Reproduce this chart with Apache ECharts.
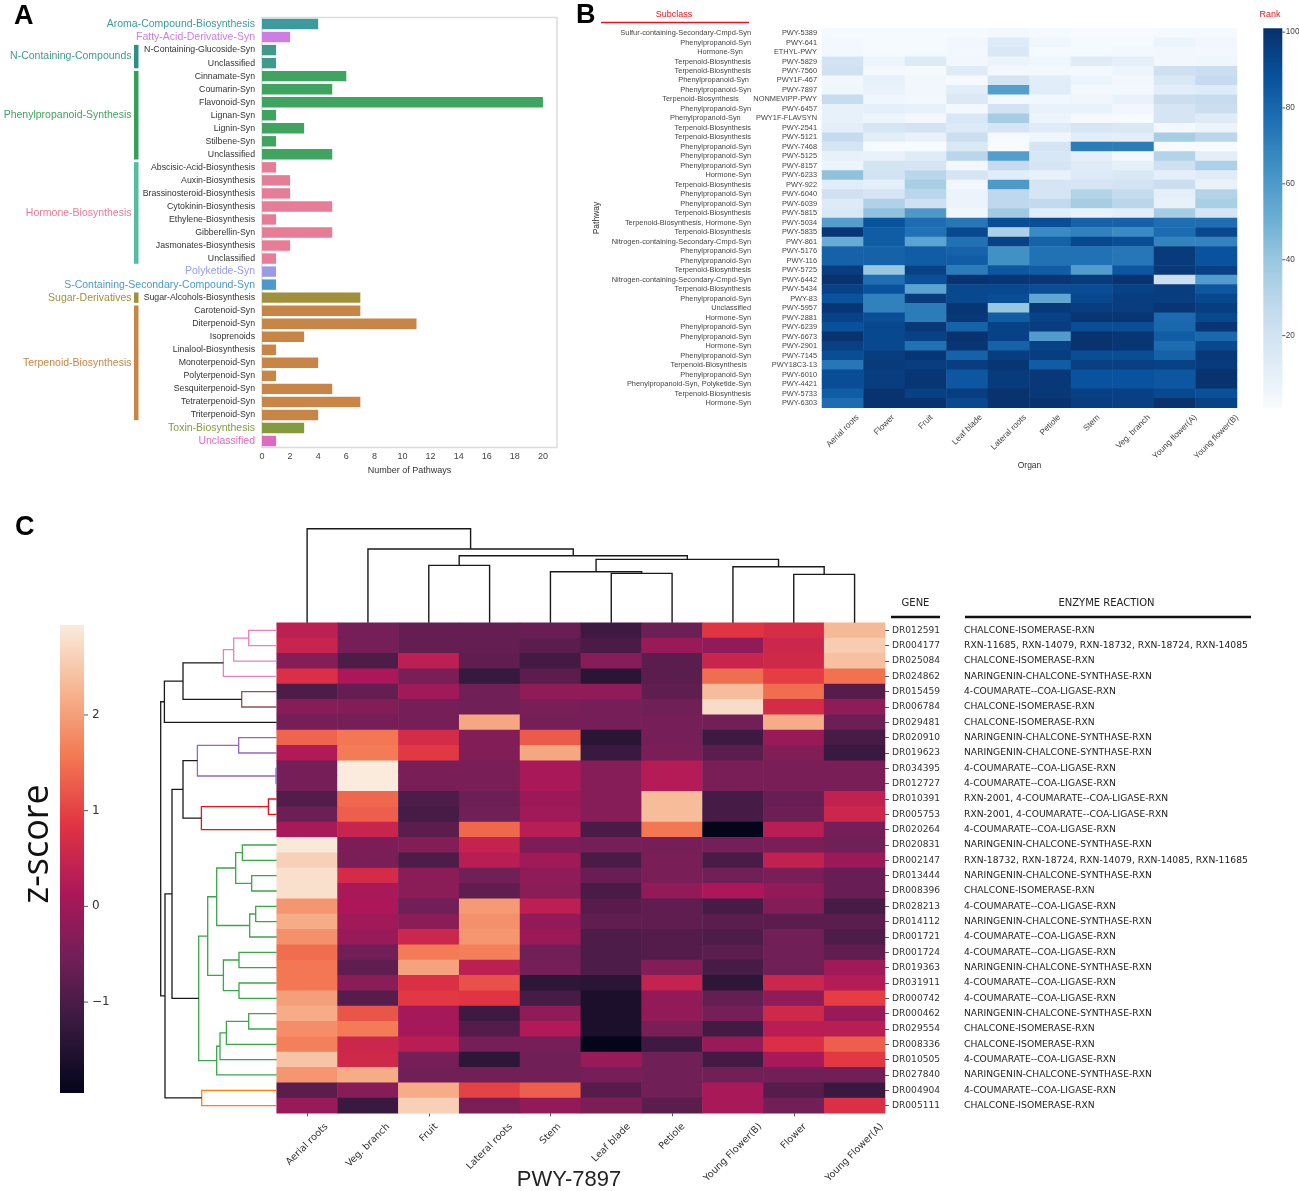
<!DOCTYPE html>
<html><head><meta charset="utf-8">
<style>html,body{margin:0;padding:0;background:#fff}#c{width:1299px;height:1191px}</style>
<script src="https://cdn.jsdelivr.net/npm/echarts@6/dist/echarts.min.js"></script>
</head><body><div id="c"></div>
<script>
// ---------- Panel A data ----------
const pathwayCategories = ['Aroma-Compound-Biosynthesis','Fatty-Acid-Derivative-Syn','N-Containing-Glucoside-Syn','Unclassified','Cinnamate-Syn','Coumarin-Syn','Flavonoid-Syn','Lignan-Syn','Lignin-Syn','Stilbene-Syn','Unclassified','Abscisic-Acid-Biosynthesis','Auxin-Biosynthesis','Brassinosteroid-Biosynthesis','Cytokinin-Biosynthesis','Ethylene-Biosynthesis','Gibberellin-Syn','Jasmonates-Biosynthesis','Unclassified','Polyketide-Syn','S-Containing-Secondary-Compound-Syn','Sugar-Alcohols-Biosynthesis','Carotenoid-Syn','Diterpenoid-Syn','Isoprenoids','Linalool-Biosynthesis','Monoterpenoid-Syn','Polyterpenoid-Syn','Sesquiterpenoid-Syn','Tetraterpenoid-Syn','Triterpenoid-Syn','Toxin-Biosynthesis','Unclassified'];
const pathwayCounts = [4,2,1,1,6,5,20,1,3,1,5,1,2,2,5,1,5,2,1,1,1,7,7,11,3,1,4,1,5,7,4,3,1];
const pathwayClass = ['aroma','fatty','ncont','ncont','phen','phen','phen','phen','phen','phen','phen','horm','horm','horm','horm','horm','horm','horm','horm','poly','scont','sugar','terp','terp','terp','terp','terp','terp','terp','terp','terp','toxin','uncl'];
const soloClassRows = [0,1,19,20,31,32];
const groupNames = ['N-Containing-Compounds','Phenylpropanoid-Synthesis','Hormone-Biosynthesis','Sugar-Derivatives','Terpenoid-Biosynthesis'];
const groupFirstRow = [2,4,11,21,22];
const groupLastRow = [3,10,18,21,30];
const groupClass = ['ncont','phen','horm','sugar','terp'];
const groupBracketColor = ['#2f8f86','#35a05a','#52bda0','#a0903c','#c98545'];
const classColor = {aroma:'#3c9a9e',fatty:'#cf7de3',ncont:'#3f9a8c',phen:'#3fa45f',horm:'#e67c95',poly:'#9a9ae5',scont:'#4b9ac9',sugar:'#a0903c',terp:'#c98545',toxin:'#839a3f',uncl:'#e06ac0'};

// ---------- Panel B data ----------
const organsB = ['Aerial roots','Flower','Fruit','Leaf blade','Lateral roots','Petiole','Stem','Veg. branch','Young flower(A)','Young flower(B)'];
const pathwaysB = ['PWY-5389','PWY-641','ETHYL-PWY','PWY-5829','PWY-7560','PWY1F-467','PWY-7897','NONMEVIPP-PWY','PWY-6457','PWY1F-FLAVSYN','PWY-2541','PWY-5121','PWY-7468','PWY-5125','PWY-8157','PWY-6233','PWY-922','PWY-6040','PWY-6039','PWY-5815','PWY-5034','PWY-5835','PWY-861','PWY-5176','PWY-116','PWY-5725','PWY-6442','PWY-5434','PWY-83','PWY-5957','PWY-2881','PWY-6239','PWY-6673','PWY-2901','PWY-7145','PWY18C3-13','PWY-6010','PWY-4421','PWY-5733','PWY-6303'];
const subclassB = ['Sulfur-containing-Secondary-Cmpd-Syn','Phenylpropanoid-Syn','Hormone-Syn    ','Terpenoid-Biosynthesis','Terpenoid-Biosynthesis','Phenylpropanoid-Syn ','Phenylpropanoid-Syn','Terpenoid-Biosynthesis      ','Phenylpropanoid-Syn','Phenylpropanoid-Syn     ','Terpenoid-Biosynthesis','Terpenoid-Biosynthesis','Phenylpropanoid-Syn','Phenylpropanoid-Syn','Phenylpropanoid-Syn','Hormone-Syn','Terpenoid-Biosynthesis','Phenylpropanoid-Syn','Phenylpropanoid-Syn','Terpenoid-Biosynthesis','Terpenoid-Biosynthesis, Hormone-Syn','Terpenoid-Biosynthesis','Nitrogen-containing-Secondary-Cmpd-Syn','Phenylpropanoid-Syn','Phenylpropanoid-Syn','Terpenoid-Biosynthesis','Nitrogen-containing-Secondary-Cmpd-Syn','Terpenoid-Biosynthesis','Phenylpropanoid-Syn','Unclassified','Hormone-Syn','Phenylpropanoid-Syn','Phenylpropanoid-Syn','Hormone-Syn','Phenylpropanoid-Syn','Terpenoid-Biosynthesis  ','Phenylpropanoid-Syn','Phenylpropanoid-Syn, Polyketide-Syn','Terpenoid-Biosynthesis','Hormone-Syn'];
const rankB = [
[2,2,2,2,3,2,1,1,2,2],[3,2,2,4,14,5,2,2,7,4],[3,2,2,3,16,2,2,3,4,3],[20,6,14,4,7,5,13,10,4,5],[21,3,2,13,3,3,3,6,22,24],
[4,9,4,2,19,12,6,4,16,26],[5,8,4,12,58,12,3,3,12,13],[25,5,3,15,3,4,5,8,24,25],[9,10,9,3,20,8,8,4,18,24],[9,6,3,17,36,6,2,2,18,13],
[11,18,20,14,18,13,18,16,3,7],[26,12,8,23,2,5,12,11,36,30],[18,1,1,16,1,18,72,72,1,1],[9,8,13,30,58,17,10,3,32,11],[6,19,18,3,26,18,13,10,22,34],
[42,20,30,18,12,9,14,16,10,13],[12,10,35,4,60,18,18,20,24,8],[22,18,30,7,28,18,32,26,10,32],[14,33,22,7,28,27,36,30,9,35],[16,42,60,5,38,12,8,11,36,18],
[58,88,78,74,90,90,82,82,77,77],[99,84,76,92,34,66,70,66,78,92],[52,84,56,76,94,82,92,90,69,69],[82,82,84,82,64,76,76,74,97,88],[82,82,84,84,64,76,76,74,97,88],
[96,40,94,72,86,84,59,86,98,95],[100,77,89,100,99,99,97,100,23,59],[94,88,56,92,92,90,90,94,96,86],[88,70,97,92,90,54,92,96,96,92],[99,70,72,99,40,98,96,96,99,96],
[94,90,72,98,84,94,99,99,79,92],[89,92,98,82,94,96,90,90,80,99],[100,92,94,100,94,59,100,99,84,80],[95,92,76,99,82,94,100,99,78,92],[90,96,99,82,96,96,90,90,82,98],
[74,97,96,96,99,84,95,95,94,97],[90,96,99,86,97,98,88,88,86,100],[90,96,99,86,97,98,88,88,86,100],[84,100,94,96,100,98,95,95,92,89],[78,100,100,92,100,100,96,95,100,94]];
const rankTicks = [20,40,60,80,100];

// ---------- Panel C data ----------
const organsC = ['Aerial roots','Veg. branch','Fruit','Lateral roots','Stem','Leaf blade','Petiole','Young Flower(B)','Flower','Young Flower(A)'];
const genesC = ['DR012591','DR004177','DR025084','DR024862','DR015459','DR006784','DR029481','DR020910','DR019623','DR034395','DR012727','DR010391','DR005753','DR020264','DR020831','DR002147','DR013444','DR008396','DR028213','DR014112','DR001721','DR001724','DR019363','DR031911','DR000742','DR000462','DR029554','DR008336','DR010505','DR027840','DR004904','DR005111'];
const CI='CHALCONE-ISOMERASE-RXN', NC='NARINGENIN-CHALCONE-SYNTHASE-RXN', CL='4-COUMARATE--COA-LIGASE-RXN', R2='RXN-2001, 4-COUMARATE--COA-LIGASE-RXN';
const reactionsC = [CI,'RXN-11685, RXN-14079, RXN-18732, RXN-18724, RXN-14085',CI,NC,CL,CI,CI,NC,NC,CL,CL,R2,R2,CL,NC,'RXN-18732, RXN-18724, RXN-14079, RXN-14085, RXN-11685',NC,CI,CL,NC,CL,CL,NC,CL,CL,NC,CI,CI,CL,NC,CL,CI];
const zscoreC = [
[0.35,-0.5,-0.7,-0.7,-0.65,-1.15,-0.6,0.85,0.7,2.3],[0.5,-0.5,-0.7,-0.7,-0.8,-1.0,-0.1,-0.2,0.55,2.55],[-0.3,-0.95,0.35,-0.75,-1.1,-0.3,-0.8,0.5,0.6,2.4],[0.75,0.15,-0.45,-1.25,-0.8,-1.4,-0.8,1.45,0.95,1.5],
[-0.95,-0.7,0.0,-0.55,-0.2,-0.2,-0.75,2.35,1.45,-0.85],[-0.3,-0.35,-0.5,-0.55,-0.45,-0.5,-0.55,2.75,0.65,-0.2],[-0.5,-0.5,-0.5,2.1,-0.5,-0.5,-0.5,-0.55,2.15,-0.6],[1.35,1.55,0.65,-0.35,1.25,-1.4,-0.5,-1.15,-0.1,-1.05],
[0.2,1.6,0.9,-0.35,2.1,-1.2,-0.45,-0.8,-0.35,-1.2],[-0.5,2.94,-0.45,-0.45,0.1,-0.3,0.25,-0.45,-0.45,-0.45],[-0.5,2.94,-0.45,-0.45,0.1,-0.3,0.25,-0.45,-0.45,-0.45],[-0.9,1.4,-0.95,-0.6,-0.05,-0.3,2.35,-1.05,-0.65,0.4],
[-0.6,1.3,-1.05,-0.55,0.0,-0.3,2.35,-1.05,-0.6,0.55],[0.1,0.5,-0.8,1.4,0.3,-1.0,1.55,-1.95,0.3,-0.5],[2.9,-0.4,-0.35,0.45,-0.4,-0.5,-0.5,-0.5,-0.45,-0.55],[2.6,-0.45,-0.95,0.3,0.0,-1.0,-0.45,-1.0,0.4,-0.05],
[2.8,0.65,-0.25,-0.55,-0.2,-0.65,-0.45,-0.55,-0.45,-0.65],[2.8,0.1,-0.25,-0.75,-0.25,-1.0,-0.15,0.15,-0.15,-0.65],[1.9,0.15,-0.55,1.95,0.35,-0.85,-0.75,-1.05,-0.35,-1.05],[2.15,0.0,-0.25,1.85,-0.15,-0.75,-0.75,-0.8,-0.8,-0.8],
[1.85,-0.1,0.55,1.9,-0.05,-0.95,-0.9,-0.95,-0.55,-0.95],[1.45,-0.55,1.6,1.65,-0.55,-0.95,-0.9,-0.8,-0.55,-0.75],[1.55,-0.75,2.05,0.35,-0.5,-0.95,-0.35,-1.05,-0.55,0.0],[1.55,-0.25,0.75,1.15,-1.35,-1.4,0.45,-1.35,0.55,0.25],
[2.0,-0.85,0.9,0.85,-1.05,-1.6,-0.15,-0.7,-0.2,0.95],[2.15,1.2,0.05,-1.15,-0.2,-1.6,-0.15,-0.5,0.6,-0.1],[1.8,1.6,0.05,-0.9,0.2,-1.6,-0.45,-1.1,0.3,0.3],[1.65,0.55,0.3,-0.5,-0.5,-1.95,-1.15,-0.1,0.75,1.3],
[2.45,0.6,-0.5,-1.35,-0.55,-0.1,-0.55,-1.1,0.1,0.9],[1.9,2.15,-0.55,-0.55,-0.55,-0.5,-0.55,-0.55,-0.55,-0.55],[-0.8,-0.3,2.15,1.0,1.3,-0.85,-0.55,0.1,-0.85,-1.2],[-0.1,-1.2,2.6,-0.45,-0.15,-0.4,-0.8,0.1,-0.55,0.75]];
const zTicks = [-1,0,1,2];
// Dendrogram merges: [child, child, linkage height]. child >= 0 is a leaf, 'mN' is the N-th merge.
const rowMerges = [[0,1,28],['m0',2,43],['m1',3,53.3],[4,5,35],['m2','m3',93.7],['m4',6,112.3],
[7,8,38],[9,10,0.7],['m6','m7',79.3],[11,12,8.3],['m9',13,75.3],['m8','m10',93.7],
[14,15,34.3],[16,17,25],['m12','m13',41],[18,19,21],['m15',20,27],['m14','m16',60],[21,22,37.7],[23,24,37.7],['m18','m19',53.3],['m17','m20',69],
[25,26,28],['m22',27,50.3],['m23',28,56.7],['m24',29,60],['m21','m25',78],['m11','m26',104.7],[30,31,75],['m27','m28',111.7],['m5','m29',116]];
const rowMergeColorKey = ['p','p','p','b','k','k','u','u','u','r','r','k','g','g','g','g','g','g','g','g','g','g','g','g','g','g','g','k','o','k','k'];
const dendroColor = {p:'#e87fc9',b:'#8c564b',k:'#1a1a1a',u:'#9467bd',r:'#e8131c',g:'#3aa648',o:'#ff7f0e'};
const colMerges = [[8,9,48.3],[7,'m0',56],[5,6,49.3],[4,'m2',51],['m3','m1',63.3],[2,3,57.3],['m5','m4',67],[1,'m6',73.7],[0,'m7',94]];

const blues = ['#f7fbff','#deebf7','#c6dbef','#9ecae1','#6baed6','#4292c6','#2171b5','#08519c','#08306b'];
const rocket = ['#03051a','#35193e','#701f57','#ad1759','#e13342','#f37651','#f6b48f','#faebdd'];

// ---------- layout ----------
const gA = {l:262,t:17.5,w:295,h:430};
const gB = {l:822,t:28.3,w:415,h:379.4};
const gBc = {l:1263.3,t:28.3,w:19,h:379.4};
const gC = {l:276.7,t:622.7,w:608.3,h:490.6};
const gCc = {l:60,t:625,w:24,h:468};
const dendroLeftW = 120, dendroTopH = 100;
const ARIAL = '"Liberation Sans",Arial,sans-serif', DEJAVU = '"DejaVu Sans",sans-serif';

function mergeLinks(merges, colorKeys){
  const pos=[],links=[];
  merges.forEach((m,i)=>{
    const get=c=>typeof c==='string'?pos[+c.slice(1)]:{p:c,h:0};
    const a=get(m[0]),b=get(m[1]);
    pos[i]={p:(a.p+b.p)/2,h:m[2]};
    links.push({a,b,h:m[2],color:colorKeys?dendroColor[colorKeys[i]]:'#1a1a1a'});
  });
  return links;
}
const rowLinks = mergeLinks(rowMerges,rowMergeColorKey);
const colLinks = mergeLinks(colMerges,null);

const measure = document.createElement('canvas').getContext('2d');
function rotatedLabelSeries(xi,yi,labels,row,font,top,fill){
  return {type:'custom',xAxisIndex:xi,yAxisIndex:yi,silent:true,clip:false,z:5,
    data:labels.map((_,i)=>[i,row]),encode:{x:0,y:1},
    renderItem(p,api){
      const i=api.value(0),cx=api.coord([i,row])[0];
      measure.font=font;
      const w=measure.measureText(labels[i]).width, fs=parseFloat(font);
      const box=(w+fs)*Math.SQRT1_2;
      return {type:'text',x:cx,y:top+box/2,rotation:Math.PI/4,
        style:{text:labels[i],font,fill,align:'center',verticalAlign:'middle'}};
    }};
}
function colorbarTicks(xi,yi,ticks,len){
  return {type:'custom',xAxisIndex:xi,yAxisIndex:yi,silent:true,clip:false,z:10,
    data:ticks.map(t=>[1,t]),encode:{x:0,y:1},
    renderItem(p,api){
      const c=api.coord([1,api.value(1)]);
      return {type:'line',shape:{x1:c[0],y1:c[1],x2:c[0]+len,y2:c[1]},style:{stroke:'#555',lineWidth:1}};
    }};
}
function cells(m){const o=[];m.forEach((r,y)=>r.forEach((v,x)=>o.push([x,y,v])));return o;}
const hiddenCat=(g)=>({gridIndex:g,type:'value',show:false,min:0,max:1});
function barGradient(colors){
  return new echarts.graphic.LinearGradient(0,1,0,0,colors.map((c,i)=>({offset:i/(colors.length-1),color:c})));
}
const noBounds={outerBoundsMode:'none',containLabel:false};

const option = {
  animation:false,backgroundColor:'#fff',
  textStyle:{fontFamily:ARIAL},
  grid:[
    {left:gA.l,top:gA.t,width:gA.w,height:gA.h,show:true,borderColor:'#dcdcdc',borderWidth:1.5,backgroundColor:'#fff',...noBounds},
    {left:gB.l,top:gB.t,width:gB.w,height:gB.h,...noBounds},
    {left:gBc.l,top:gBc.t,width:gBc.w,height:gBc.h,...noBounds},
    {left:gC.l,top:gC.t,width:gC.w,height:gC.h,...noBounds},
    {left:gC.l,top:gC.t-dendroTopH,width:gC.w,height:dendroTopH,...noBounds},
    {left:gC.l-dendroLeftW,top:gC.t,width:dendroLeftW,height:gC.h,...noBounds},
    {left:gCc.l,top:gCc.t,width:gCc.w,height:gCc.h,...noBounds}
  ],
  xAxis:[
    {gridIndex:0,type:'value',min:0,max:21,interval:2,splitLine:{show:false},axisLine:{show:false},axisTick:{show:false},
      axisLabel:{color:'#444',fontSize:9,margin:5,showMaxLabel:false,formatter:v=>v>20?'':v},
      name:'Number of Pathways',nameLocation:'center',nameGap:19,nameTextStyle:{color:'#333',fontSize:9}},
    {gridIndex:1,type:'category',data:organsB,axisLine:{show:false},axisTick:{show:false},axisLabel:{show:false},
      name:'Organ',nameLocation:'center',nameGap:53,nameTextStyle:{color:'#333',fontSize:8.5}},
    hiddenCat(2),
    {gridIndex:3,type:'category',data:organsC,axisLine:{show:false},axisTick:{show:true,length:3,alignWithLabel:true,lineStyle:{color:'#555'}},axisLabel:{show:false}},
    {gridIndex:4,type:'value',show:false,min:-0.5,max:9.5},
    {gridIndex:5,type:'value',show:false,min:0,max:dendroLeftW,inverse:true},
    hiddenCat(6)
  ],
  yAxis:[
    {gridIndex:0,type:'category',inverse:true,
      data:pathwayCategories.map((c,i)=>soloClassRows.includes(i)?{value:c,textStyle:{color:classColor[pathwayClass[i]],fontSize:10.5}}:{value:c}),
      axisLine:{show:false},axisTick:{show:false},axisLabel:{interval:0,color:'#333',fontSize:8.75,margin:7}},
    {gridIndex:1,type:'category',inverse:true,data:pathwaysB,axisLine:{show:false},axisTick:{show:false},axisLabel:{interval:0,color:'#444',fontSize:7.4,margin:5}},
    {gridIndex:1,type:'category',inverse:true,data:subclassB,position:'left',offset:66,axisLine:{show:false},axisTick:{show:false},axisLabel:{interval:0,color:'#444',fontSize:7.4,margin:5},
      name:'Pathway',nameLocation:'center',nameRotate:90,nameGap:155,nameTextStyle:{color:'#333',fontSize:8.5}},
    {gridIndex:2,type:'value',position:'right',min:1,max:101,axisLine:{show:false},splitLine:{show:false},
      axisTick:{show:false},axisLabel:{color:'#444',fontSize:8.2,margin:3.5,customValues:rankTicks}},
    {gridIndex:3,type:'category',inverse:true,position:'right',data:genesC,axisLine:{show:false},axisTick:{show:true,length:4,alignWithLabel:true,lineStyle:{color:'#555'}},axisLabel:{interval:0,color:'#333',fontSize:9.1,fontFamily:DEJAVU,margin:7}},
    {gridIndex:3,type:'category',inverse:true,position:'right',offset:74,data:reactionsC,axisLine:{show:false},axisTick:{show:false},axisLabel:{interval:0,color:'#222',fontSize:9.2,fontFamily:DEJAVU,margin:5}},
    {gridIndex:4,type:'value',show:false,min:0,max:dendroTopH},
    {gridIndex:5,type:'value',show:false,min:-0.5,max:31.5,inverse:true},
    {gridIndex:6,type:'value',position:'right',min:-1.95,max:2.94,axisLine:{show:false},splitLine:{show:false},
      axisTick:{show:false},axisLabel:{color:'#333',fontSize:12,fontFamily:DEJAVU,margin:8,customValues:zTicks,formatter:v=>v<0?'\u2212'+Math.abs(v):String(v)}}
  ],
  visualMap:[
    {type:'continuous',show:false,seriesIndex:2,min:1,max:101,hoverLink:false,inRange:{color:blues}},
    {type:'continuous',show:false,seriesIndex:4,min:-1.95,max:2.94,hoverLink:false,inRange:{color:rocket}}
  ],
  series:[
    {type:'bar',xAxisIndex:0,yAxisIndex:0,barWidth:'80%',silent:true,
      data:pathwayCounts.map((v,i)=>({value:v,itemStyle:{color:classColor[pathwayClass[i]]}}))},
    {type:'custom',xAxisIndex:0,yAxisIndex:0,silent:true,clip:false,
      data:groupNames.map((_,i)=>[0,groupFirstRow[i],groupLastRow[i],i]),encode:{x:0,y:1},
      renderItem(p,api){
        const i=api.value(3),y0=api.coord([0,api.value(1)])[1],y1=api.coord([0,api.value(2)])[1];
        const half=api.size([0,1])[1]*0.4;
        return {type:'group',children:[
          {type:'rect',shape:{x:134,y:y0-half,width:4.5,height:y1-y0+2*half},style:{fill:groupBracketColor[i]}},
          {type:'text',x:131.5,y:(y0+y1)/2,style:{text:groupNames[i],font:'10.5px '+ARIAL,fill:classColor[groupClass[i]],align:'right',verticalAlign:'middle'}}
        ]};
      }},
    {type:'heatmap',xAxisIndex:1,yAxisIndex:1,silent:true,data:cells(rankB),progressive:0},
    rotatedLabelSeries(1,1,organsB,39,'8.3px '+ARIAL,gB.t+gB.h+5.5,'#444'),
    {type:'heatmap',xAxisIndex:3,yAxisIndex:4,silent:true,data:cells(zscoreC),progressive:0},
    rotatedLabelSeries(3,4,organsC,31,'9.6px '+DEJAVU,gC.t+gC.h+8.4,'#333'),
    {type:'custom',xAxisIndex:4,yAxisIndex:6,silent:true,clip:false,
      data:colLinks.map((l,i)=>[l.a.p,l.h,i]),encode:{x:0,y:1},
      renderItem(p,api){
        const l=colLinks[api.value(2)];
        const pts=[[l.a.p,l.a.h],[l.a.p,l.h],[l.b.p,l.h],[l.b.p,l.b.h]].map(c=>api.coord(c));
        return {type:'polyline',shape:{points:pts},style:{stroke:'#1a1a1a',lineWidth:1.4,fill:'none'}};
      }},
    {type:'custom',xAxisIndex:5,yAxisIndex:7,silent:true,clip:false,
      data:rowLinks.map((l,i)=>[l.h,l.a.p,i]),encode:{x:0,y:1},
      renderItem(p,api){
        const l=rowLinks[api.value(2)];
        const pts=[[l.a.h,l.a.p],[l.h,l.a.p],[l.h,l.b.p],[l.b.h,l.b.p]].map(c=>api.coord(c));
        return {type:'polyline',shape:{points:pts},style:{stroke:l.color,lineWidth:1.3,fill:'none'}};
      }},
    colorbarTicks(2,3,rankTicks,3),
    colorbarTicks(6,8,zTicks,4)
  ],
  graphic:[
    {type:'rect',silent:true,z:-1,shape:{x:gBc.l,y:gBc.t,width:gBc.w,height:gBc.h},style:{fill:barGradient(blues)}},
    {type:'rect',silent:true,z:-1,shape:{x:gCc.l,y:gCc.t,width:gCc.w,height:gCc.h},style:{fill:barGradient(rocket)}},
    {type:'text',left:14,top:3,silent:true,style:{text:'A',font:'bold 27px '+ARIAL,fill:'#000'}},
    {type:'text',left:576,top:2,silent:true,style:{text:'B',font:'bold 27px '+ARIAL,fill:'#000'}},
    {type:'text',left:15,top:514,silent:true,style:{text:'C',font:'bold 27px '+ARIAL,fill:'#000'}},
    {type:'text',x:674,y:15,silent:true,style:{text:'Subclass',font:'9px '+ARIAL,fill:'#e8131c',align:'center',verticalAlign:'middle'}},
    {type:'line',silent:true,shape:{x1:601,y1:22.5,x2:749,y2:22.5},style:{stroke:'#e8131c',lineWidth:1.5}},
    {type:'text',x:1270,y:15,silent:true,style:{text:'Rank',font:'9px '+ARIAL,fill:'#e8131c',align:'center',verticalAlign:'middle'}},
    {type:'text',x:915.5,y:603,silent:true,style:{text:'GENE',font:'10px '+DEJAVU,fill:'#222',align:'center',verticalAlign:'middle'}},
    {type:'line',silent:true,shape:{x1:891,y1:617,x2:940,y2:617},style:{stroke:'#111',lineWidth:2.5}},
    {type:'text',x:1106.5,y:603,silent:true,style:{text:'ENZYME REACTION',font:'10px '+DEJAVU,fill:'#222',align:'center',verticalAlign:'middle'}},
    {type:'line',silent:true,shape:{x1:965,y1:617,x2:1251,y2:617},style:{stroke:'#111',lineWidth:2.5}},
    {type:'text',x:569,y:1180,silent:true,style:{text:'PWY-7897',font:'22px '+ARIAL,fill:'#222',align:'center',verticalAlign:'middle'}},
    {type:'text',x:38,y:844,rotation:Math.PI/2,silent:true,style:{text:'z-score',font:'36px "Open Sans",sans-serif',fill:'#111',align:'center',verticalAlign:'middle'}}
  ]
};
const chart = echarts.init(document.getElementById('c'),null,{width:1299,height:1191,renderer:'canvas'});
chart.setOption(option);
</script></body></html>
